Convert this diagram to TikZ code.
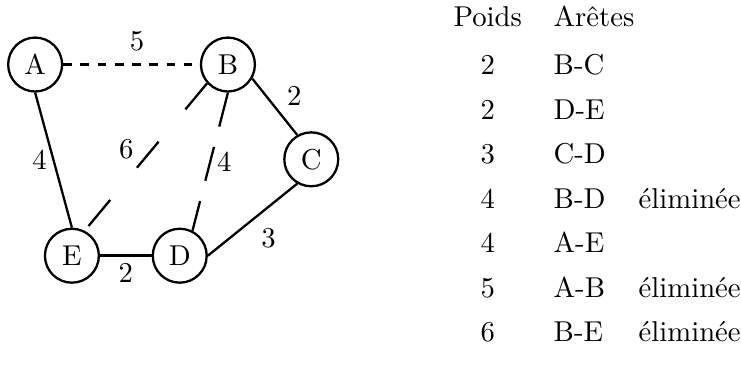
\documentclass[tikz,border=0pt]{standalone}
\usepackage{fontspec}
\usepackage{tikz}
\usetikzlibrary{positioning}

\begin{document}
\begin{tikzpicture}[vertex/.style={circle, draw, line width=0.8pt, minimum size=0.66cm, inner sep=0pt},
                weight/.style={inner sep=2pt},
                kept/.style={line width=0.8pt},
                heavy/.style={line width=1.2pt},
                elim/.style={line width=1pt, dashed},
                elimBE/.style={line width=0.8pt, dash pattern=on 11.8pt off 14.6pt},
                elimBD/.style={line width=0.8pt, dash pattern=on 12.2pt off 7.3pt},
                cell/.style={inner sep=0pt, anchor=base},
                lcell/.style={inner sep=0pt, anchor=base west}]
            \useasboundingbox (0,0) rectangle (9.07,4.50);

            % graph
            \node[vertex] (A) at (0.43,3.71) {A};
            \node[vertex] (B) at (2.79,3.71) {B};
            \node[vertex] (C) at (3.81,2.55) {C};
            \node[vertex] (E) at (0.88,1.37) {E};
            \node[vertex] (D) at (2.20,1.37) {D};

            \draw[elim] (A.east) -- node[weight, pos=0.54, above=2pt] (wAB) {5} (B.west);
            \draw[kept] (B.330) -- node[weight, pos=0.3, right=5pt] (wBC) {2} (C.120);
            \draw[kept] (C.240) -- node[weight, pos=0.5, below right=1pt] (wCD) {3} (D.east);
            \draw[heavy] (E.east) -- node[weight, below] (wED) {2} (D.west);
            \draw[kept] (A.south) -- node[weight, left] (wAE) {4} (E.north);
            \draw[elimBE] (B.222) -- node[weight, pos=0.45, left=4pt] (wBE) {6} (E.63);
            \draw[elimBD] (B.south) -- node[weight, pos=0.5, right=0pt] (wBD) {4} (D.63);

            % table
            \node[cell] (poids) at (5.97,4.17) {Poids};
            \node[lcell] (aretes) at (6.77,4.17) {Arêtes};
            \foreach \w/\e [count=\i] in {2/B-C, 2/D-E, 3/C-D, 4/B-D, 4/A-E, 5/A-B, 6/B-E} {
                \node[cell] (poids\i) at (5.97,{4.131-0.5447*\i}) {\w};
                \node[lcell] (arete\i) at (6.77,{4.131-0.5447*\i}) {\e};
            }
            \foreach \i in {4,6,7}
                \node[lcell] (elim\i) at (7.81,{4.131-0.5447*\i}) {éliminée};
        \end{tikzpicture}
\end{document}
